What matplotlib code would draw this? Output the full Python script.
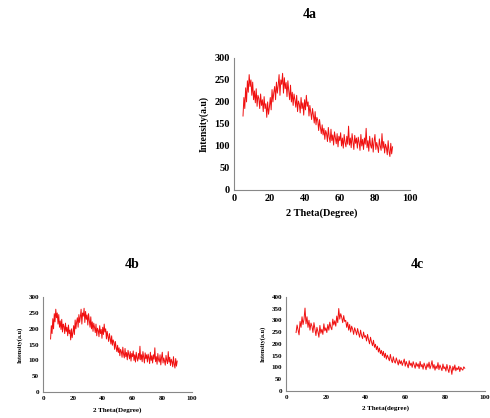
import numpy as np
import matplotlib
matplotlib.use('Agg')
import matplotlib.pyplot as plt

# XRD patterns (2 theta from 5 to 90 deg, step 0.5)
two_theta = np.arange(5, 90.01, 0.5)

intensity_4a = [
    168, 210, 185, 232, 200, 248, 222, 262, 235, 250,
    215, 245, 205, 225, 198, 230, 190, 215, 208, 185,
    218, 192, 205, 178, 212, 185, 196, 165, 200, 172,
    188, 210, 182, 228, 200, 222, 235, 205, 245, 220,
    238, 262, 215, 250, 240, 265, 220, 255, 230, 244,
    212, 248, 225, 205, 238, 200, 222, 192, 218, 205,
    188, 215, 178, 202, 195, 175, 210, 185, 198, 170,
    205, 182, 215, 190, 200, 168, 192, 175, 160, 185,
    170, 152, 178, 148, 165, 158, 135, 160, 142, 128,
    148, 125, 140, 115, 135, 128, 110, 142, 120, 108,
    138, 112, 125, 102, 132, 118, 105, 128, 98, 122,
    112, 130, 100, 118, 95, 126, 108, 98, 122, 104,
    145, 102, 118, 96, 128, 110, 92, 124, 106, 118,
    95, 120, 108, 90, 126, 100, 115, 92, 118, 104,
    140, 96, 112, 88, 122, 102, 95, 118, 86, 110,
    126, 92, 108, 98, 85, 116, 100, 90, 128, 95,
    110, 84, 104, 96, 80, 112, 88, 76, 106, 82,
    98,
]

# 4b shows the same pattern as 4a
intensity_4b = list(intensity_4a)

intensity_4c = [
    248, 280, 258, 238, 295, 270, 315, 282, 305, 352,
    285, 315, 270, 300, 258, 288, 275, 248, 290, 262,
    235, 270, 252, 228, 278, 245, 262, 240, 285, 255,
    268, 248, 282, 258, 292, 270, 260, 305, 280, 298,
    275, 318, 290, 350, 305, 328, 312, 290, 320, 295,
    300, 270, 292, 258, 282, 250, 275, 262, 240, 268,
    255, 238, 265, 245, 228, 258, 235, 222, 250, 228,
    235, 212, 240, 218, 200, 228, 208, 192, 215, 185,
    198, 175, 190, 165, 182, 158, 172, 150, 168, 142,
    160, 135, 152, 140, 128, 155, 132, 120, 145, 125,
    118, 140, 125, 110, 132, 115, 128, 108, 122, 135,
    105, 125, 112, 98, 128, 108, 118, 100, 124, 110,
    96, 120, 104, 115, 95, 125, 102, 112, 92, 118,
    105, 90, 115, 100, 122, 94, 108, 128, 96, 112,
    88, 106, 95, 120, 90, 110, 98, 86, 114, 94,
    102, 84, 112, 92, 78, 108, 96, 70, 104, 88,
    110, 85, 98, 90, 104, 82, 100, 92, 88, 102,
    96,
]

plt.rcParams['font.family'] = ['Liberation Serif', 'DejaVu Serif']
plt.rcParams['font.weight'] = 'bold'

fig = plt.figure(figsize=(4.9, 4.18), dpi=100)


def xrd_panel(rect, y, ymax, ystep, xlabel, fs):
    ax = fig.add_axes(rect)
    ax.plot(two_theta, y, color='#f01010', lw=0.7)
    ax.set_xlim(0, 100)
    ax.set_ylim(0, ymax)
    ax.set_xticks(range(0, 101, 20))
    ax.set_yticks(range(0, ymax + 1, ystep))
    for s in ['top', 'right']:
        ax.spines[s].set_visible(False)
    for s in ['left', 'bottom']:
        ax.spines[s].set_color('#888888')
        ax.spines[s].set_linewidth(0.8)
    ax.tick_params(length=0, labelsize=fs, pad=3)
    for lab in ax.get_xticklabels() + ax.get_yticklabels():
        lab.set_fontweight('bold')
    ax.set_xlabel(xlabel, fontsize=fs, fontweight='bold', labelpad=4)
    ax.set_ylabel('Intensity(a.u)', fontsize=fs - 0.5, fontweight='bold', labelpad=4)
    return ax


xrd_panel([0.478, 0.5455, 0.359, 0.316], intensity_4a, 300, 50, '2 Theta(Degree)', 7.5)
xrd_panel([0.088, 0.062, 0.304, 0.227], intensity_4b, 300, 50, '2 Theta(Degree)', 5)
xrd_panel([0.584, 0.065, 0.405, 0.225], intensity_4c, 400, 50, '2 Theta(degree)', 5)

fig.text(310 / 490, 1 - 14 / 418, '4a', ha='center', va='center', fontsize=10, fontweight='bold')
fig.text(132 / 490, 1 - 265 / 418, '4b', ha='center', va='center', fontsize=10, fontweight='bold')
fig.text(417 / 490, 1 - 265 / 418, '4c', ha='center', va='center', fontsize=10, fontweight='bold')

fig.savefig('out.png', dpi=100)
